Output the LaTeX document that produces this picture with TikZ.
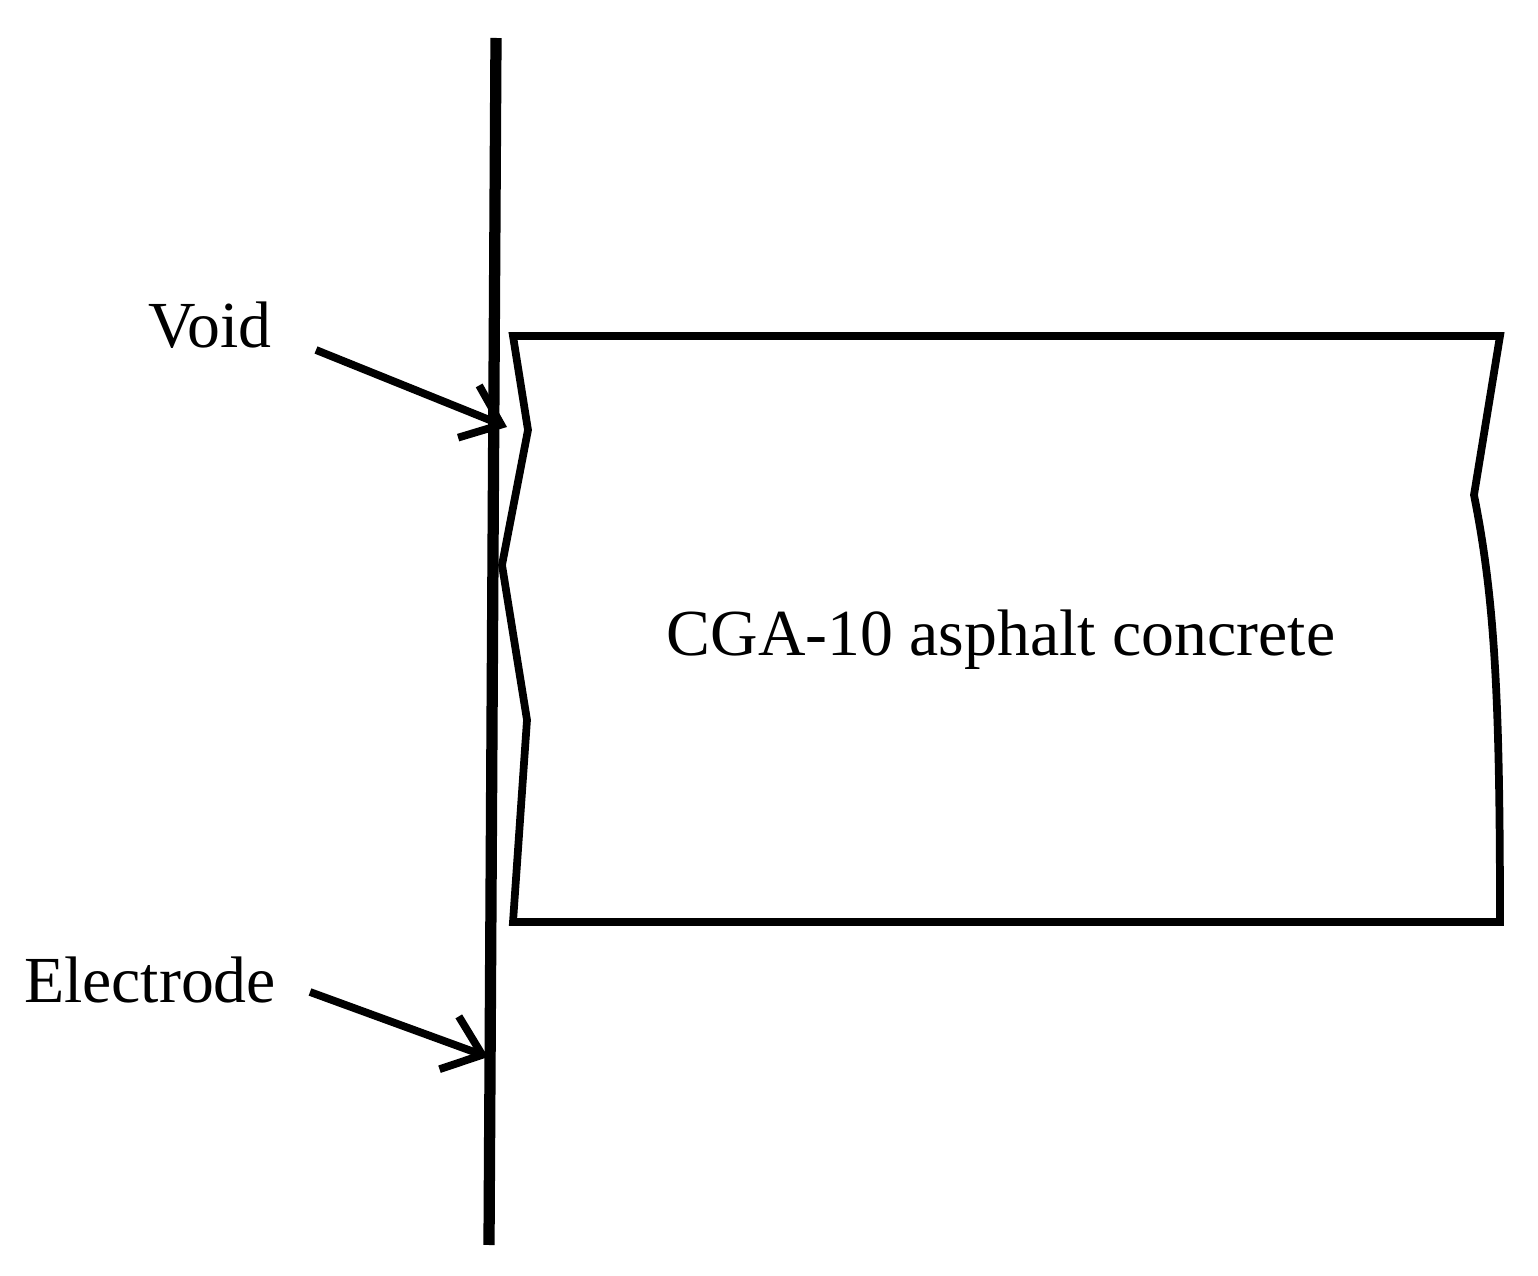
\documentclass[tikz,border=0pt]{standalone}
\usepackage{fontspec}
\setmainfont{Liberation Serif}
\usetikzlibrary{arrows.meta}
\begin{document}
\begin{tikzpicture}[x=0.01cm,y=-0.01cm,
  lbl/.style={font=\fontsize{18.7}{22}\selectfont},
  arr/.style={line width=2.2pt,-{Straight Barb[length=10pt,width=16pt,line width=2.2pt]}}]
\useasboundingbox (0,0) rectangle (1538,1276);
\draw[line width=3.2pt] (496,38) coordinate (et) -- (489,1245) coordinate (eb);
\draw[line width=2.2pt,line join=miter] (513,336) -- (1500,336) -- (1474,495)
  .. controls (1495,600) and (1500,700) .. (1500,922) -- (513,922) -- (527,720) -- (502,565) -- (528,430) -- cycle;
\node[lbl] (void) at (210,325) {Void};
\node[lbl] (elec) at (150,980) {Electrode};
\node[lbl] (cga) at (1001,640) {CGA-10 asphalt concrete};
\coordinate (v0) at (316,350);
\coordinate (v1) at (507,427);
\coordinate (e0) at (310,992);
\coordinate (e1) at (488,1057);
\draw[arr] (v0) -- (v1);
\draw[arr] (e0) -- (e1);
\end{tikzpicture}
\end{document}
